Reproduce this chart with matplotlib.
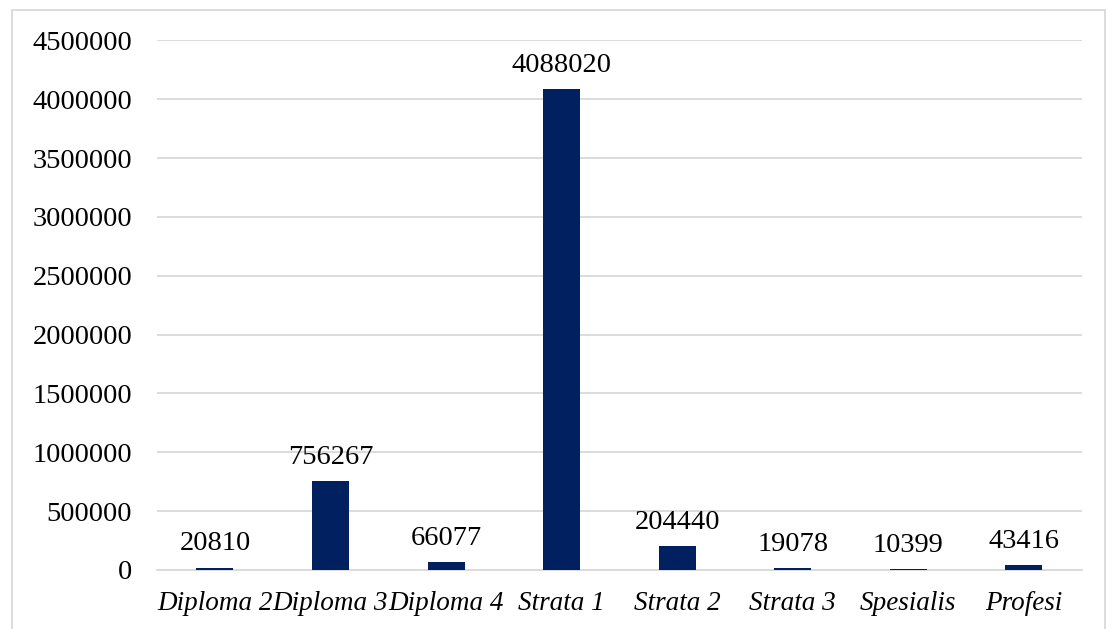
import matplotlib
matplotlib.use("Agg")
import matplotlib.pyplot as plt
from matplotlib.patches import Rectangle

categories = ["Diploma 2", "Diploma 3", "Diploma 4", "Strata 1", "Strata 2", "Strata 3", "Spesialis", "Profesi"]
values = [20810, 756267, 66077, 4088020, 204440, 19078, 10399, 43416]
yticks = [0, 500000, 1000000, 1500000, 2000000, 2500000, 3000000, 3500000, 4000000, 4500000]

plt.rcParams['font.family'] = ['Liberation Serif', 'DejaVu Serif']

fig = plt.figure(figsize=(11.15, 6.29), dpi=100)
ax = fig.add_axes([0.141, 0.0938, 0.829, 0.842])

x = list(range(len(categories)))
bars = ax.bar(x, values, width=0.32, color="#002060", zorder=3)
for xi, v in zip(x, values):
    ax.annotate(str(v), (xi, v), xytext=(0, 8), textcoords="offset points",
                ha="center", va="bottom", fontsize=20.5, color="#000000")

ax.set_xlim(-0.5, len(categories) - 0.5)
ax.set_ylim(0, 4500000)
ax.set_yticks(yticks)
ax.set_yticklabels([str(t) for t in yticks], fontsize=20.5)
ax.set_xticks(x)
ax.set_xticklabels(categories, fontsize=19.5, style="italic")
ax.tick_params(axis="both", length=0)
ax.tick_params(axis="y", pad=18)
ax.tick_params(axis="x", pad=15)
ax.grid(axis="y", color="#D9D9D9", linewidth=1.3, zorder=0)
for s in ["left", "right", "top"]:
    ax.spines[s].set_visible(False)
ax.spines["bottom"].set_color("#D9D9D9")
ax.spines["bottom"].set_linewidth(1.3)

fig.patches.append(Rectangle((0.0108, -0.05), 0.9802, 1.034, transform=fig.transFigure,
                             fill=False, edgecolor="#D9D9D9", linewidth=1.3))

fig.savefig("out.png", dpi=100)
